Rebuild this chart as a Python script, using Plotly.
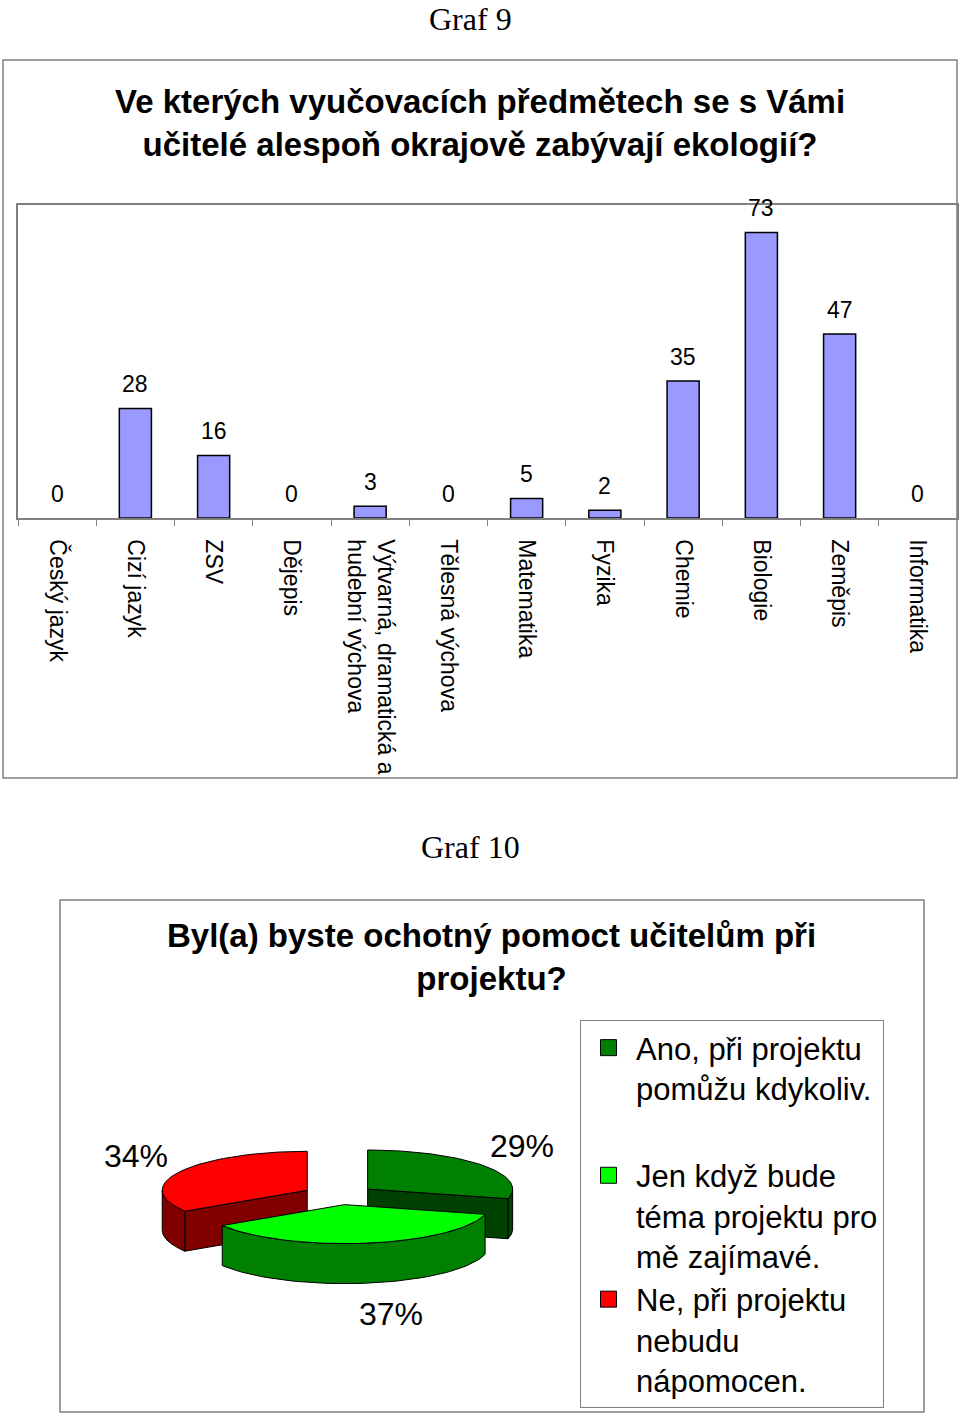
import numpy as np
import plotly.graph_objects as go

# ---------------- data ----------------
chart1_label = "Graf 9"
chart1_title = "Ve kterých vyučovacích předmětech se s Vámi<br>učitelé alespoň okrajově zabývají ekologií?"
subjects = ["Český jazyk", "Cizí jazyk", "ZSV", "Dějepis",
            "Výtvarná, dramatická a<br>hudební výchova", "Tělesná výchova",
            "Matematika", "Fyzika", "Chemie", "Biologie", "Zeměpis", "Informatika"]
counts = [0, 28, 16, 0, 3, 0, 5, 2, 35, 73, 47, 0]

chart2_label = "Graf 10"
chart2_title = "Byl(a) byste ochotný pomoct učitelům při<br>projektu?"
answers = ["Ano, při projektu<br>pomůžu kdykoliv.",
           "Jen když bude<br>téma projektu pro<br>mě zajímavé.",
           "Ne, při projektu<br>nebudu<br>nápomocen."]
shares = [29, 37, 34]
legend_groups = ["g1", "g2", "g2"]

# ---------------- styles ----------------
W, H = 960, 1416
SANS = "Liberation Sans, Arial, sans-serif"
SERIF = "Liberation Serif, Times New Roman, serif"
GRAY = "#808080"
bar_color = "#9999FF"
top_colors = ["#008000", "#00FF00", "#FF0000"]
side_colors = ["#004000", "#008000", "#800000"]


def px_x(p):
    return p / W


def px_y(p):
    return 1 - p / H


fig = go.Figure()

# ---------------- bar chart ----------------
fig.add_trace(go.Bar(
    x=subjects, y=counts, width=0.41,
    marker=dict(color=bar_color,
                line=dict(color="black", width=[1.5 if v > 0 else 0 for v in counts])),
    showlegend=False, hoverinfo="x+y",
    xaxis="x", yaxis="y",
))

annotations = []
for s, v in zip(subjects, counts):
    annotations.append(dict(
        x=s, y=v, xref="x", yref="y", text=str(v), showarrow=False,
        yanchor="middle", yshift=24,
        font=dict(family=SANS, size=23, color="black"),
    ))

# ---------------- pseudo 3D pie ----------------
cx, cy = 339, 1195      # pie centre (pixels)
A, B = 145, 39          # ellipse radii
D = 40                  # thickness
explode = 0.25
npts = 60


def rim(ox, oy, t):
    r = np.radians(t)
    return ox + A * np.cos(r), oy - B * np.sin(r)


slices = []
cum = 0.0
for i, s in enumerate(shares):
    t1 = 90 - cum * 3.6
    t2 = t1 - s * 3.6
    cum += s
    mid = (t1 + t2) / 2
    ox = cx + explode * A * np.cos(np.radians(mid))
    oy = cy - explode * B * np.sin(np.radians(mid))
    slices.append(dict(i=i, t1=t1, t2=t2, mid=mid, ox=ox, oy=oy))

# back slices first
order = sorted(slices, key=lambda d: -np.sin(np.radians(d["mid"])))

line_style = dict(color="black", width=1)
for sl in order:
    i, t1, t2, ox, oy = sl["i"], sl["t1"], sl["t2"], sl["ox"], sl["oy"]
    # radial walls
    for t, normal in ((t1, t1 + 90), (t2, t2 - 90)):
        if np.sin(np.radians(normal)) < -1e-6:
            rx, ry = rim(ox, oy, t)
            fig.add_trace(go.Scatter(
                x=[ox, rx, rx, ox, ox], y=[oy, ry, ry + D, oy + D, oy],
                mode="lines", fill="toself", fillcolor=side_colors[i],
                line=line_style, showlegend=False, hoverinfo="skip",
                xaxis="x2", yaxis="y2"))
    # outer (front) wall
    lo, hi = max(t2, -180), min(t1, 0)
    if hi > lo:
        ts = np.linspace(hi, lo, npts)
        xs, ys = rim(ox, oy, ts)
        wx = np.concatenate([xs, xs[::-1], xs[:1]])
        wy = np.concatenate([ys, ys[::-1] + D, ys[:1]])
        fig.add_trace(go.Scatter(
            x=wx, y=wy, mode="lines", fill="toself", fillcolor=side_colors[i],
            line=line_style, showlegend=False, hoverinfo="skip",
            xaxis="x2", yaxis="y2"))
    # top face
    ts = np.linspace(t1, t2, npts)
    xs, ys = rim(ox, oy, ts)
    fig.add_trace(go.Scatter(
        x=np.concatenate([[ox], xs, [ox]]), y=np.concatenate([[oy], ys, [oy]]),
        mode="lines", fill="toself", fillcolor=top_colors[i],
        line=line_style, showlegend=False,
        name=answers[i].replace("<br>", " "), hoverinfo="name",
        xaxis="x2", yaxis="y2"))

# percent labels
for sl in slices:
    m = np.radians(sl["mid"])
    lx = cx + A * (1.6 if np.sin(m) >= 0 else 2.3) * np.cos(m)
    ly = cy - B * 2.05 * np.sin(m) + (D if np.sin(m) < 0 else 0)
    annotations.append(dict(
        x=lx, y=ly, xref="x2", yref="y2", text=f"{shares[sl['i']]}%",
        showarrow=False, xanchor="center", yanchor="middle",
        font=dict(family=SANS, size=32, color="black")))

# legend entries
for i, name in enumerate(answers):
    fig.add_trace(go.Scatter(
        x=[None], y=[None], mode="markers", name=name, legendgroup=legend_groups[i],
        marker=dict(symbol="square", size=18, color=top_colors[i],
                    line=dict(color="black", width=1)),
        xaxis="x2", yaxis="y2"))

# ---------------- texts ----------------
annotations += [
    dict(x=px_x(470), y=px_y(19), xref="paper", yref="paper", text=chart1_label,
         showarrow=False, xanchor="center", yanchor="middle",
         font=dict(family=SERIF, size=32, color="black")),
    dict(x=px_x(480), y=px_y(123), xref="paper", yref="paper", text=f"<b>{chart1_title}</b>",
         showarrow=False, xanchor="center", yanchor="middle",
         font=dict(family=SANS, size=33, color="black")),
    dict(x=px_x(470), y=px_y(847), xref="paper", yref="paper", text=chart2_label,
         showarrow=False, xanchor="center", yanchor="middle",
         font=dict(family=SERIF, size=32, color="black")),
    dict(x=px_x(491), y=px_y(957), xref="paper", yref="paper", text=f"<b>{chart2_title}</b>",
         showarrow=False, xanchor="center", yanchor="middle",
         font=dict(family=SANS, size=33, color="black")),
]

shapes = [
    dict(type="rect", xref="paper", yref="paper", x0=px_x(3), x1=px_x(957),
         y0=px_y(778), y1=px_y(60), line=dict(color=GRAY, width=1.5), layer="below"),
    dict(type="rect", xref="paper", yref="paper", x0=px_x(60), x1=px_x(924),
         y0=px_y(1412), y1=px_y(900), line=dict(color=GRAY, width=1.5), layer="below"),
]

fig.update_layout(
    width=W, height=H,
    margin=dict(l=0, r=0, t=0, b=0),
    paper_bgcolor="white", plot_bgcolor="rgba(0,0,0,0)",
    annotations=annotations, shapes=shapes,
    xaxis=dict(domain=[px_x(18), px_x(957)], anchor="y", type="category",
               range=[-0.5, len(subjects) - 0.5],
               tickangle=90, tickson="boundaries", ticks="outside", ticklen=6,
               tickcolor=GRAY, ticklabelstandoff=15,
               showline=True, linecolor=GRAY, linewidth=1.5, mirror=True,
               showgrid=False, zeroline=False,
               tickfont=dict(family=SANS, size=23, color="black")),
    yaxis=dict(domain=[px_y(518), px_y(205)], anchor="x", range=[0, 80],
               showticklabels=False, ticks="", showgrid=False, zeroline=False,
               showline=True, linecolor=GRAY, linewidth=1.5, mirror=True),
    xaxis2=dict(domain=[0, 1], anchor="y2", range=[0, W], visible=False),
    yaxis2=dict(domain=[0, 1], anchor="x2", range=[H, 0], visible=False),
    legend=dict(x=px_x(580), y=px_y(1020), xanchor="left", yanchor="top",
                bgcolor="white", bordercolor=GRAY, borderwidth=1,
                font=dict(family=SANS, size=31, color="black"),
                valign="top", tracegroupgap=44, itemwidth=45),
    showlegend=True,
)

fig.write_html("out.html", config={"displayModeBar": False},
               post_script="document.body.style.margin='0px';")
